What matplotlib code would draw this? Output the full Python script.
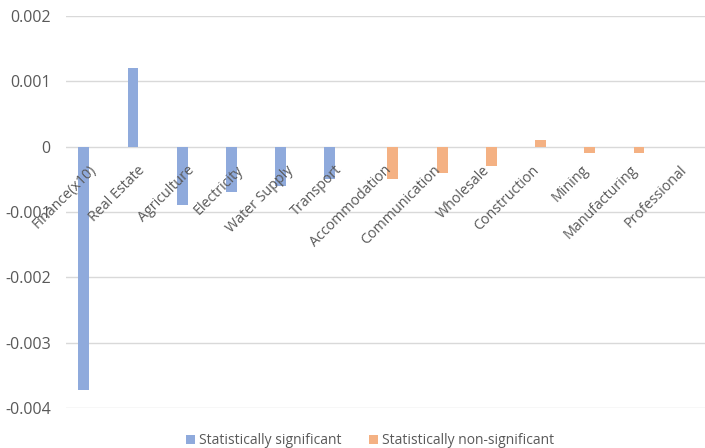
import numpy as np
import matplotlib
matplotlib.use("Agg")
import matplotlib.pyplot as plt

categories = ["Finance(x10)", "Real Estate", "Agriculture", "Electricity", "Water Supply",
              "Transport", "Accommodation", "Communication", "Wholesale", "Construction",
              "Mining", "Manufacturing", "Professional"]
significant = [-0.00373, 0.0012, -0.0009, -0.0007, -0.0006, -0.0005,
               np.nan, np.nan, np.nan, np.nan, np.nan, np.nan, np.nan]
non_significant = [np.nan, np.nan, np.nan, np.nan, np.nan, np.nan,
                   -0.0005, -0.0004, -0.0003, 0.0001, -0.0001, -0.0001, 0.0]
yticks = [0.002, 0.001, 0.0, -0.001, -0.002, -0.003, -0.004]
ytick_labels = ["0.002", "0.001", "0", "-0.001", "-0.002", "-0.003", "-0.004"]
series_names = ["Statistically significant", "Statistically non-significant"]

BLUE = "#8faadc"
ORANGE = "#f4b183"
TEXT = "#595959"
GRID = "#d9d9d9"

plt.rcParams["font.family"] = ["Open Sans", "DejaVu Sans"]

fig = plt.figure(figsize=(7.05, 4.48), dpi=100)
ax = fig.add_axes([66 / 705, 1 - 408 / 448, 640 / 705, (408 - 16) / 448])

x = np.arange(len(categories))
w = 0.22
off = 0.14
ax.bar(x - off, significant, width=w, color=BLUE, label=series_names[0], zorder=3)
ax.bar(x + off, non_significant, width=w, color=ORANGE, label=series_names[1], zorder=3)

ax.set_xlim(-0.5, len(categories) - 0.5)
ax.set_ylim(-0.004, 0.002)
ax.set_yticks(yticks)
ax.set_yticklabels(ytick_labels, color=TEXT, fontsize=11.5)
ax.tick_params(axis="y", length=0, pad=11)
ax.set_xticks([])
ax.grid(axis="y", color=GRID, linewidth=1.0, zorder=0)
for s in ax.spines.values():
    s.set_visible(False)

# category labels sit along the zero line, rotated 45 degrees
for i, name in enumerate(categories):
    ax.annotate(name, xy=(i, 0), xytext=(-1.5, -11.5), textcoords="offset points",
                rotation=45, rotation_mode="anchor", ha="right", va="top",
                color=TEXT, fontsize=10.3, zorder=4)

leg = fig.legend(loc="lower center", bbox_to_anchor=(0.525, -0.028), ncol=2, frameon=False,
                 fontsize=10, handlelength=0.6, handleheight=0.6, handletextpad=0.3,
                 columnspacing=2.0)
for t in leg.get_texts():
    t.set_color(TEXT)

fig.savefig("out.png", dpi=100)
